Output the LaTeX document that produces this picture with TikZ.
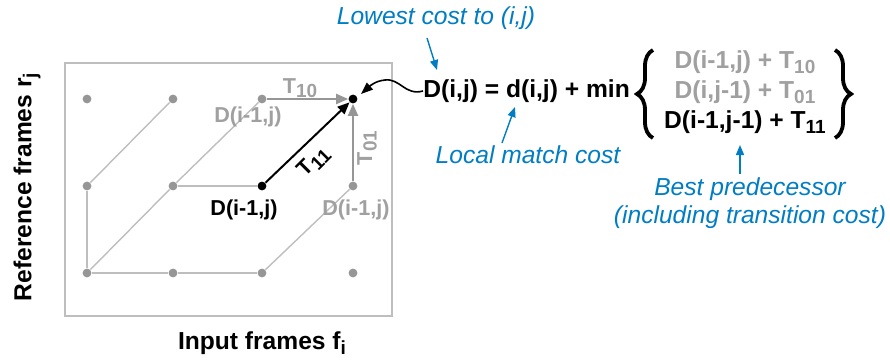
\documentclass[tikz,border=0pt]{standalone}
\usepackage{fontspec}
\setmainfont{Liberation Sans}
\usetikzlibrary{arrows.meta,decorations.pathreplacing}
\definecolor{myblue}{RGB}{0,125,195}
\definecolor{dotgray}{RGB}{150,150,150}
\definecolor{txtgray}{RGB}{160,160,160}
\definecolor{framegray}{RGB}{190,190,190}
\newcommand{\lsub}[1]{\raisebox{-0.4ex}{\fontsize{9.5}{10}\selectfont #1}}
\begin{document}
\begin{tikzpicture}[x=0.5pt,y=-0.5pt,
  dotn/.style={circle,fill=dotgray,inner sep=0pt,minimum size=4.4pt},
  dotb/.style={circle,fill=black,inner sep=0pt,minimum size=4.4pt},
  gridline/.style={draw=framegray,line width=0.7pt},
  garrow/.style={draw=dotgray,line width=1pt,-{Triangle[length=6pt,width=5pt]}},
  barrow/.style={draw=black,line width=1pt,-{Triangle[length=6pt,width=5pt]}},
  blarrow/.style={draw=myblue,line width=0.7pt,-{Triangle[length=5pt,width=4pt]}},
  glabel/.style={font=\fontsize{10.8}{12}\selectfont\bfseries,text=txtgray,inner sep=0pt},
  blabel/.style={font=\fontsize{10.8}{12}\selectfont\bfseries,text=black,inner sep=0pt},
  eqtext/.style={font=\fontsize{12.3}{14}\selectfont\bfseries,inner sep=0pt},
  bluetext/.style={font=\fontsize{12.3}{14}\selectfont\itshape,text=myblue,inner sep=0pt,align=center},
  axislabel/.style={font=\fontsize{12.3}{14}\selectfont\bfseries,inner sep=0pt},
  bracestyle/.style={decorate,decoration={brace,amplitude=8pt},line width=1.9pt}
]
\useasboundingbox (0,0) rectangle (890,360);
% frame
\node[draw=framegray,line width=1pt,minimum width=163.5pt,minimum height=126.5pt,inner sep=0pt] (frame) at (228.5,189.5) {};
% grid points
\node[dotn] (p11) at (87,99) {};
\node[dotn] (p21) at (173,99) {};
\node[dotn] (p31) at (262,99) {};
\node[dotb] (p41) at (353,99) {};
\node[dotn] (p12) at (87,186) {};
\node[dotn] (p22) at (173,186) {};
\node[dotb] (p32) at (262,186) {};
\node[dotn] (p42) at (353,186) {};
\node[dotn] (p13) at (87,273) {};
\node[dotn] (p23) at (173,273) {};
\node[dotn] (p33) at (262,273) {};
\node[dotn] (p43) at (353,273) {};
% grid lines
\draw[gridline] (p12) -- (p21);
\draw[gridline] (p13) -- (p12);
\draw[gridline] (p13) -- (p22) -- (p31);
\draw[gridline] (p22) -- (p32);
\draw[gridline] (p13) -- (p23) -- (p33);
\draw[gridline] (p33) -- (p42);
% transitions
\draw[garrow] (p31) -- (p41);
\draw[garrow] (p42) -- (p41);
\draw[barrow] (p32) -- (p41);
% labels
\node[glabel] (t10) at (300,88) {T\lsub{10}};
\node[blabel,rotate=45] (t11) at (314,162) {T\lsub{11}};
\node[glabel,rotate=90] (t01) at (367,148) {T\lsub{01}};
\node[glabel] (lab1) at (248,117) {D(i-1,j)};
\node[blabel] (lab2) at (244,210) {D(i-1,j)};
\node[glabel] (lab3) at (356,210) {D(i-1,j)};
% axis labels
\node[axislabel,rotate=90] (ylab) at (27,187) {Reference frames r\lsub{j}};
\node[axislabel] (xlab) at (262,343) {Input frames f\lsub{i}};
% equation
\node[eqtext,anchor=west] (eq) at (423,91) {D(i,j) = d(i,j) + min};
\node[eqtext,text=txtgray] (c1) at (745,62) {D(i-1,j) + T\lsub{10}};
\node[eqtext,text=txtgray] (c2) at (745,92) {D(i,j-1) + T\lsub{01}};
\node[eqtext] (c3) at (745,122) {D(i-1,j-1) + T\lsub{11}};
\coordinate (lb1) at (653,138);
\coordinate (lb2) at (653,50);
\coordinate (rb1) at (835,50);
\coordinate (rb2) at (835,138);
\draw[bracestyle] (lb1) -- (lb2);
\draw[bracestyle] (rb1) -- (rb2);
% wavy connector
\draw[line width=0.8pt,-{Triangle[length=6pt,width=4.5pt]}] (eq.west) .. controls (405,96) and (400,78) .. (385,80) .. controls (375,81) and (370,86) .. (361,94);
% blue annotations
\node[bluetext] (n1) at (436,18) {Lowest cost to (i,j)};
\node[bluetext] (n2) at (528,155) {Local match cost};
\node[bluetext] (n3) at (750,203) {Best predecessor\\(including transition cost)};
\coordinate (a1s) at (427,38);
\coordinate (a1e) at (437,70);
\coordinate (a2s) at (502,143);
\coordinate (a2e) at (515,107);
\coordinate (a3s) at (740,174);
\coordinate (a3e) at (740,145);
\draw[blarrow] (a1s) -- (a1e);
\draw[blarrow] (a2s) -- (a2e);
\draw[blarrow] (a3s) -- (a3e);
\end{tikzpicture}
\end{document}
